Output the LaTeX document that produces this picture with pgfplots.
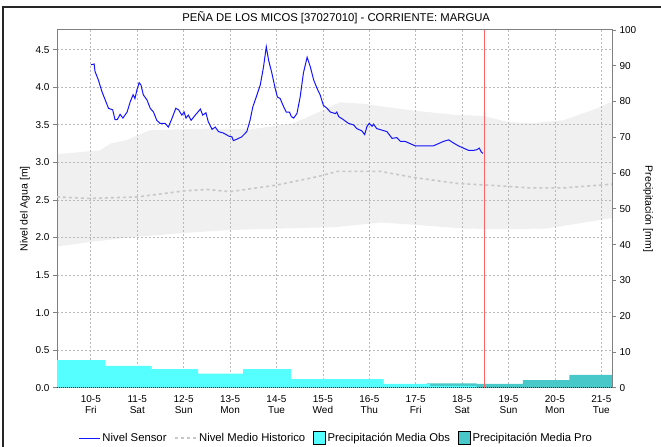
\documentclass[border=0pt]{standalone}
\usepackage{fontspec}
\setmainfont{Liberation Sans}
\usepackage{pgfplots}
\usepackage{pgfplotstable}
\pgfplotsset{compat=1.18}

\definecolor{sensorblue}{RGB}{20,20,255}
\definecolor{bandgray}{RGB}{240,240,240}
\definecolor{meangray}{RGB}{200,200,200}
\definecolor{gridgray}{RGB}{185,185,185}
\definecolor{obscyan}{RGB}{85,255,255}
\definecolor{proteal}{RGB}{72,200,200}
\definecolor{nowred}{RGB}{255,100,100}
\definecolor{axisgray}{RGB}{128,128,128}

% 100 mm on the right axis sits at the top of the left axis (4.763 m)
\newcommand{\mmtom}{0.04763}

\pgfplotsset{
  linelegend/.style={legend image code/.code={\draw[##1] (0bp,0bp) -- (21bp,0bp);}},
  boxlegend/.style={legend image code/.code={\fill[##1] (0bp,-6.5bp) rectangle (12bp,6.5bp);}},
}

% x in days, 0 = 10-5
\pgfplotstableread{
d m
0.00 4.30
0.07 4.31
0.09 4.21
0.16 4.10
0.24 3.94
0.31 3.83
0.38 3.72
0.47 3.70
0.52 3.57
0.57 3.57
0.63 3.64
0.69 3.59
0.78 3.67
0.85 3.81
0.91 3.90
0.95 3.85
0.99 3.96
1.04 4.06
1.08 4.03
1.13 3.90
1.21 3.83
1.28 3.72
1.35 3.67
1.42 3.56
1.49 3.52
1.60 3.52
1.67 3.47
1.75 3.59
1.83 3.72
1.89 3.70
1.96 3.63
2.01 3.67
2.05 3.59
2.10 3.63
2.16 3.56
2.25 3.63
2.36 3.71
2.41 3.63
2.48 3.66
2.53 3.54
2.61 3.44
2.68 3.47
2.75 3.41
2.86 3.39
2.97 3.35
3.04 3.34
3.07 3.29
3.15 3.31
3.25 3.34
3.36 3.41
3.43 3.56
3.49 3.74
3.58 3.90
3.65 4.03
3.72 4.27
3.78 4.54
3.83 4.36
3.90 4.19
3.97 3.99
4.02 3.87
4.08 3.85
4.14 3.76
4.21 3.67
4.28 3.67
4.32 3.61
4.37 3.59
4.44 3.65
4.51 3.87
4.58 4.19
4.66 4.40
4.73 4.27
4.80 4.10
4.87 3.99
4.94 3.90
5.01 3.76
5.09 3.72
5.16 3.67
5.27 3.65
5.30 3.67
5.34 3.61
5.44 3.57
5.55 3.52
5.66 3.50
5.73 3.45
5.84 3.42
5.90 3.37
5.95 3.48
6.00 3.52
6.06 3.48
6.09 3.51
6.16 3.45
6.27 3.43
6.38 3.41
6.49 3.32
6.59 3.33
6.67 3.28
6.77 3.28
6.88 3.25
6.99 3.22
7.10 3.22
7.24 3.22
7.38 3.22
7.49 3.25
7.60 3.28
7.71 3.30
7.81 3.26
7.92 3.22
8.03 3.19
8.14 3.16
8.25 3.16
8.32 3.17
8.37 3.19
8.41 3.14
8.45 3.12
}\sensor

% historic range: upper edge left to right, then lower edge right to left
\pgfplotstableread{
d m
-0.73 3.11
0.20 3.16
0.42 3.25
0.78 3.30
1.28 3.43
2.57 3.45
3.43 3.44
4.36 3.52
4.73 3.62
5.16 3.74
5.37 3.80
5.87 3.78
6.95 3.69
7.89 3.63
8.45 3.62
8.97 3.54
9.47 3.52
10.18 3.56
10.91 3.72
11.23 3.81
11.23 2.26
10.54 2.19
9.83 2.12
8.76 2.11
8.02 2.12
6.95 2.17
6.24 2.20
5.31 2.14
3.00 2.10
2.01 2.06
0.99 2.01
-0.02 1.94
-0.73 1.88
}\band

\pgfplotstableread{
d m
-0.73 2.54
-0.02 2.52
0.99 2.54
2.01 2.62
2.50 2.64
3.00 2.61
4.02 2.70
4.88 2.81
5.31 2.88
6.24 2.88
6.95 2.80
7.89 2.72
8.76 2.69
9.47 2.66
10.18 2.66
11.23 2.71
}\mean

% daily rainfall [mm], each value holds until the next d
\pgfplotstableread{
d mm
-0.73 7.7
0.31 6.1
1.31 5.2
2.31 3.9
3.28 5.2
4.31 2.4
5.31 2.4
6.31 1.1
7.31 0.5
8.31 0.5
}\obs

\pgfplotstableread{
d mm
7.24 1.2
8.31 1.1
9.31 2.1
10.31 3.6
11.23 3.6
}\pro

\begin{document}
\begin{tikzpicture}
\draw[line width=1.5bp, black!85] (3bp,-10bp) -- (3bp,440bp) -- (680bp,440bp);

\begin{axis}[
  set layers,
  at={(57bp,59.3bp)}, anchor=south west,
  scale only axis, width=555bp, height=357.7bp,
  xmin=-0.73, xmax=11.23, ymin=0, ymax=4.763,
  /pgf/number format/assume math mode=true,
  xtick={0,...,11},
  xticklabels={{10-5\\Fri},{11-5\\Sat},{12-5\\Sun},{13-5\\Mon},{14-5\\Tue},{15-5\\Wed},
               {16-5\\Thu},{17-5\\Fri},{18-5\\Sat},{19-5\\Sun},{20-5\\Mon},{21-5\\Tue}},
  xticklabel style={align=center, font=\fontsize{10bp}{11.7bp}\selectfont},
  xtick style={draw=none},
  ytick={0,0.5,...,4.5},
  yticklabel style={font=\fontsize{10bp}{12bp}\selectfont,
    /pgf/number format/fixed, /pgf/number format/fixed zerofill, /pgf/number format/precision=1},
  ytick pos=left, tick align=outside, major tick length=4bp,
  ytick style={axisgray, line width=0.8bp},
  axis line style={axisgray, line width=1bp},
  grid=major,
  grid style={gridgray, dash pattern=on 2bp off 2bp, line width=0.8bp},
  title={PEÑA DE LOS MICOS [37027010] - CORRIENTE: MARGUA},
  title style={at={(axis description cs:0.503,1)}, anchor=base, yshift=3bp,
    font=\fontsize{11.3bp}{13bp}\selectfont},
  ylabel={Nivel del Agua [m]},
  every axis y label/.style={at={(axis description cs:-0.0577,0.5)}, rotate=90, anchor=center,
    font=\fontsize{10.5bp}{12bp}\selectfont},
  legend columns=4,
  legend style={at={(axis description cs:0.503,-0.141)}, anchor=center, draw=none, fill=none,
    font=\fontsize{11.3bp}{13bp}\selectfont,
    /tikz/every even column/.append style={column sep=6bp}},
]
% historic range and mean level
\addplot[fill=bandgray, draw=none, on layer=axis background, forget plot] table[x=d, y=m] {\band} -- cycle;
\addplot[meangray, line width=1.6bp, dash pattern=on 3bp off 3bp, forget plot] table[x=d, y=m] {\mean};

% rainfall, forecast under observed
\addplot[fill=proteal, draw=none, const plot, forget plot] table[x=d, y expr=\thisrow{mm}*\mmtom] {\pro} \closedcycle;
\addplot[fill=obscyan, draw=none, const plot, forget plot] table[x=d, y expr=\thisrow{mm}*\mmtom] {\obs} \closedcycle;

% sensor level
\addplot[sensorblue, line width=1bp, forget plot] table[x=d, y=m] {\sensor};

% current time
\addplot[nowred, line width=1.5bp, forget plot] coordinates {(8.48,0) (8.48,4.763)};

\draw[black!80, line width=1bp, dash pattern=on 1bp off 1bp] (axis cs:-0.73,0) -- (axis cs:11.23,0);

\addlegendimage{linelegend, sensorblue, line width=1bp}
\addlegendentry{Nivel Sensor}
\addlegendimage{linelegend, meangray, line width=1.6bp, dash pattern=on 3bp off 3bp}
\addlegendentry{Nivel Medio Historico}
\addlegendimage{boxlegend, fill=obscyan}
\addlegendentry{Precipitación Media Obs}
\addlegendimage{boxlegend, fill=proteal}
\addlegendentry{Precipitación Media Pro}
\end{axis}

\begin{axis}[
  at={(57bp,59.3bp)}, anchor=south west,
  scale only axis, width=555bp, height=357.7bp,
  xmin=-0.73, xmax=11.23, ymin=0, ymax=100,
  axis x line=none, axis y line*=right,
  /pgf/number format/assume math mode=true,
  ytick={0,10,...,100},
  yticklabel style={font=\fontsize{10bp}{12bp}\selectfont},
  tick align=outside, major tick length=4bp,
  ytick style={axisgray, line width=0.8bp},
  axis line style={axisgray, line width=1bp},
  ylabel={Precipitación [mm]},
  every axis y label/.style={at={(axis description cs:1.065,0.5)}, rotate=-90, anchor=center,
    font=\fontsize{10.5bp}{12bp}\selectfont},
]
\end{axis}

\pgfresetboundingbox
\path[use as bounding box] (0bp,0bp) rectangle (661bp,447bp);
\end{tikzpicture}
\end{document}
